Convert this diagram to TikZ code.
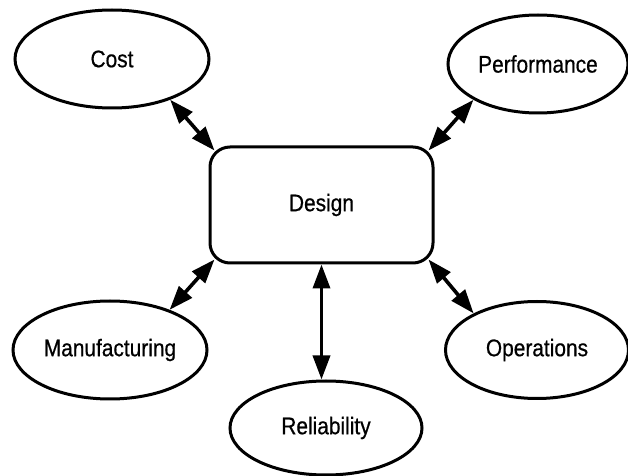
\documentclass[tikz,border=0pt]{standalone}
\usepackage{fontspec}
\setmainfont{Liberation Sans}[FakeStretch=0.87,FakeBold=0.6]
\usetikzlibrary{shapes.geometric,arrows.meta}

\begin{document}
\begin{tikzpicture}[x=0.5pt,y=-0.5pt,
    goal/.style={draw,ellipse,line width=1.5pt,inner sep=0pt,font=\fontsize{12}{14}\selectfont},
    link/.style={{Triangle[length=12pt,width=8.5pt]}-{Triangle[length=12pt,width=8.5pt]},line width=1.8pt}]
    \useasboundingbox (0,0) rectangle (628,476);

    \node[draw,rounded corners=10pt,line width=1.5pt,minimum width=111.5pt,minimum height=58pt,
          font=\fontsize{12}{14}\selectfont] (design) at (321.5,205) {Design};

    \node[goal,minimum width=97pt,minimum height=49pt] (cost) at (112,59) {Cost};
    \node[goal,minimum width=90pt,minimum height=49pt] (perf) at (538,64) {Performance};
    \node[goal,minimum width=97pt,minimum height=49pt] (manuf) at (110,350) {Manufacturing};
    \node[goal,minimum width=91.5pt,minimum height=48.5pt] (oper) at (537,350) {Operations};
    \node[goal,minimum width=96pt,minimum height=47pt] (rel) at (326,428) {Reliability};

    % links to the corners of the design box
    \draw[link] (cost.-35) -- ([shift={(3pt,-2.5pt)}]design.north west);
    \draw[link] (perf.209) -- ([shift={(-3pt,-2.5pt)}]design.north east);
    \draw[link] (manuf.34) -- ([shift={(3pt,2.5pt)}]design.south west);
    \draw[link] (oper.150) -- ([shift={(-3pt,2.5pt)}]design.south east);
    \draw[link] (design.south) -- (design.south |- rel.north);

\end{tikzpicture}
\end{document}
